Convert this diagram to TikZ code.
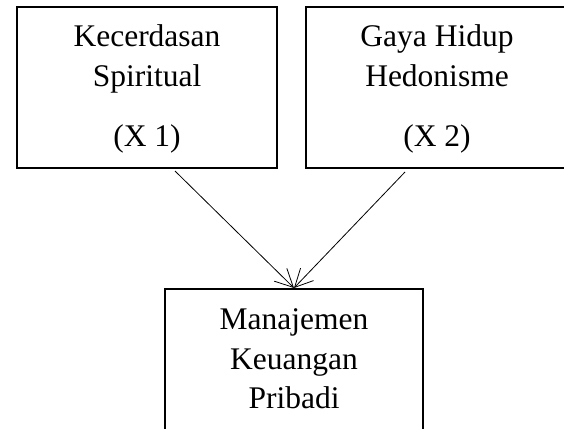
\documentclass[tikz,border=0pt]{standalone}
\usepackage{fontspec}
\setmainfont{Liberation Serif}
\usetikzlibrary{arrows.meta}
\begin{document}
\begin{tikzpicture}[x=1pt,y=-1pt,
  box/.style={draw, line width=2.2pt, minimum width=260pt, minimum height=161pt, inner sep=0pt},
  lbl/.style={anchor=base, inner sep=0pt, font=\fontsize{31.5}{36}\selectfont},
  conn/.style={line width=0.8pt, -{Straight Barb[length=18pt,width=18pt]}}]
\useasboundingbox (0,0) rectangle (564,428);
\clip (0,0) rectangle (564,428);
\node[box] (b1) at (147,87.5) {};
\node[box] (b2) at (436,87.5) {};
\node[box, minimum width=258pt, minimum height=180pt, anchor=north] (b3) at (294,288) {};
\node[lbl] (t11) at (147,46.7) {Kecerdasan};
\node[lbl] (t12) at (147,86) {Spiritual};
\node[lbl] (t13) at (147,146.7) {(X 1)};
\node[lbl] (t21) at (437,46.7) {Gaya Hidup};
\node[lbl] (t22) at (437,86) {Hedonisme};
\node[lbl] (t23) at (437,146.7) {(X 2)};
\node[lbl] (t31) at (294,329) {Manajemen};
\node[lbl] (t32) at (294,369) {Keuangan};
\node[lbl] (t33) at (294,408) {Pribadi};
\coordinate (s1) at (175,171);
\coordinate (s2) at (405,172);
\draw[conn] (s1) -- (b3.north);
\draw[conn] (s2) -- (b3.north);
\end{tikzpicture}
\end{document}
